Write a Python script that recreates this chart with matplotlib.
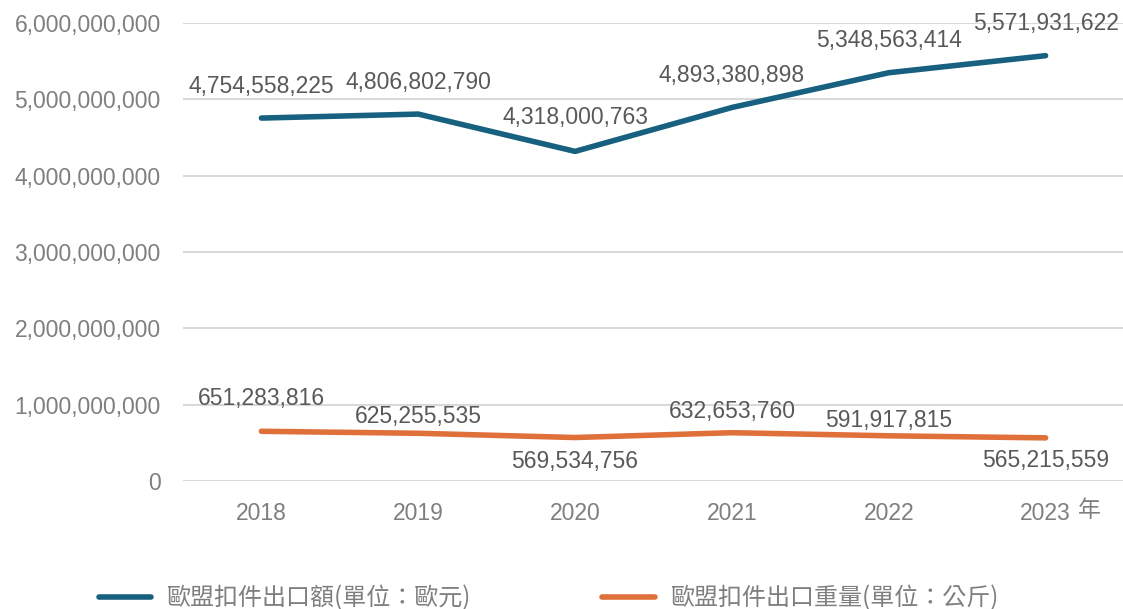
import matplotlib
matplotlib.use("Agg")
import matplotlib.pyplot as plt
from matplotlib.ticker import FuncFormatter

years = ["2018", "2019", "2020", "2021", "2022", "2023"]
export_value = [4754558225, 4806802790, 4318000763, 4893380898, 5348563414, 5571931622]
export_weight = [651283816, 625255535, 569534756, 632653760, 591917815, 565215559]
series_names = ["歐盟扣件出口額(單位：歐元)", "歐盟扣件出口重量(單位：公斤)"]
x_unit = "年"

# label offsets in pixels (style)
off_value = [-32, -32, -34, -32, -32, -32]
off_weight = [-33, -17, 24, -21, -15, 23]

plt.rcParams['font.family'] = ['Liberation Sans', 'Noto Sans CJK TC', 'DejaVu Sans']

W, H = 1123, 609
fig = plt.figure(figsize=(W / 100, H / 100), dpi=100)
ax = fig.add_axes([183 / W, (H - 481) / H, (1124 - 183) / W, (481 - 23) / H])

blue = "#17607F"
orange = "#E0703A"
tick_col = "#7F7F7F"
lab_col = "#595959"
fs = 16.5

x = list(range(len(years)))
l1, = ax.plot(x, export_value, color=blue, lw=4, solid_capstyle="round", solid_joinstyle="round", zorder=3)
l2, = ax.plot(x, export_weight, color=orange, lw=4, solid_capstyle="round", solid_joinstyle="round", zorder=3)

for xi, v, o in zip(x, export_value, off_value):
    ax.annotate(f"{v:,}", (xi, v), xytext=(0, -o), textcoords="offset pixels",
                ha="center", va="center", fontsize=fs, color=lab_col)
for xi, v, o in zip(x, export_weight, off_weight):
    ax.annotate(f"{v:,}", (xi, v), xytext=(0, -o), textcoords="offset pixels",
                ha="center", va="center", fontsize=fs, color=lab_col)

ax.set_xlim(-0.5, len(years) - 0.5)
ax.set_ylim(0, 6e9)
ax.set_yticks([i * 1e9 for i in range(7)])
ax.yaxis.set_major_formatter(FuncFormatter(lambda v, p: f"{int(v):,}"))
ax.set_xticks(x)
ax.set_xticklabels(years)
ax.tick_params(axis="both", length=0, labelsize=fs, labelcolor=tick_col)
ax.tick_params(axis="y", pad=16)
ax.tick_params(axis="x", pad=15)
ax.grid(axis="y", color="#D9D9D9", lw=1.5)
ax.set_axisbelow(True)
for s in ax.spines.values():
    s.set_visible(False)

ax.text(5.28, -0.065, x_unit, transform=ax.get_xaxis_transform(), ha="center", va="center",
        fontsize=fs, color=tick_col, family=['Noto Sans CJK TC', 'DejaVu Sans'])

leg = fig.legend([l1, l2], series_names, loc="center left", bbox_to_anchor=(77 / W, (H - 598) / H),
                 ncol=2, frameon=False, handlelength=2.2, handletextpad=0.6, columnspacing=5.5,
                 prop={'family': ['Noto Sans CJK TC', 'DejaVu Sans'], 'size': 17.3})
for t in leg.get_texts():
    t.set_color(tick_col)

fig.savefig("out.png", dpi=100)
